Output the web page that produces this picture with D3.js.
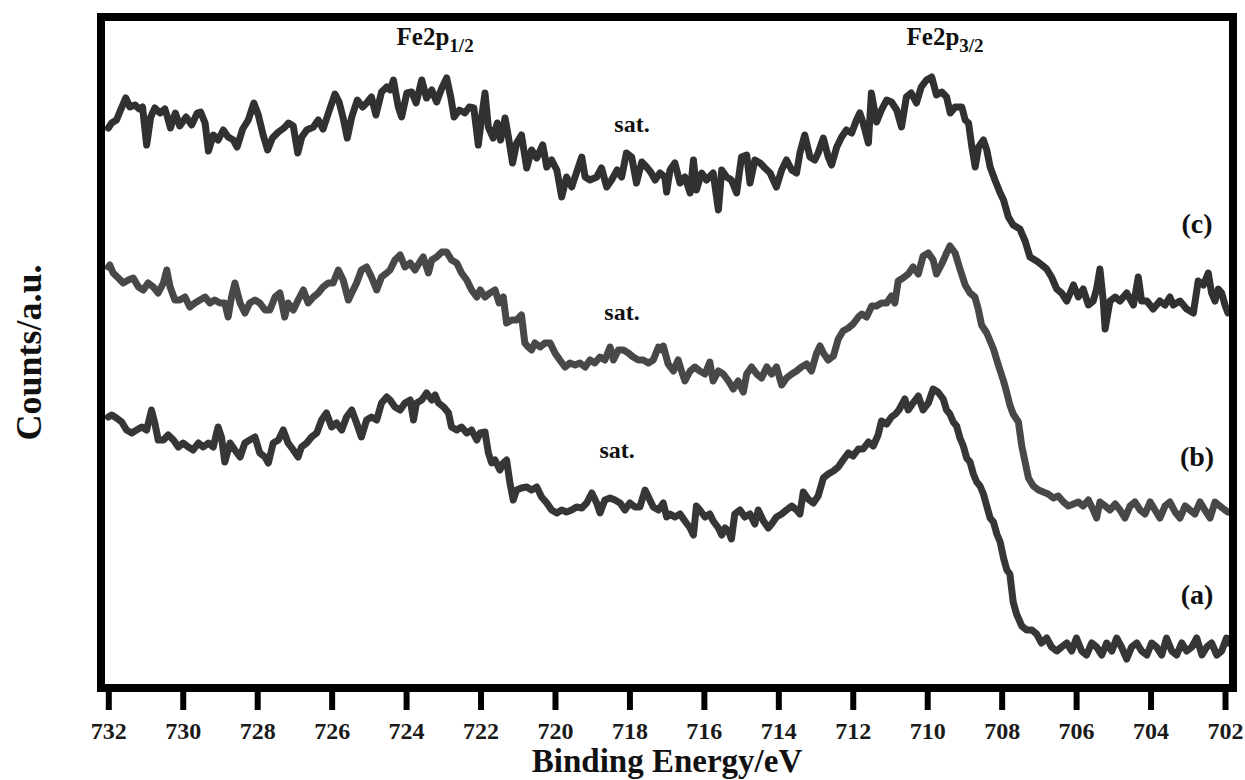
<!DOCTYPE html>
<html>
<head>
<meta charset="utf-8">
<script src="https://cdn.jsdelivr.net/npm/d3@7"></script>
<style>
  html, body { margin: 0; padding: 0; background: #ffffff; }
  svg { display: block; }
</style>
</head>
<body>
<svg id="chart" width="1245" height="780"></svg>
<script>
// Fe 2p XPS spectra of samples (a), (b), (c); binding energy in eV, intensity in arbitrary units.
const tickValues = [732, 730, 728, 726, 724, 722, 720, 718, 716, 714, 712, 710, 708, 706, 704, 702];

const beC = [732.00,731.91,731.78,731.67,731.53,731.42,731.28,731.17,731.08,730.97,730.86,730.75,730.61,730.48,730.41,730.33,730.20,730.08,729.91,729.76,729.61,729.52,729.40,729.31,729.18,729.05,728.91,728.78,728.64,728.54,728.39,728.24,728.09,727.97,727.84,727.72,727.59,727.43,727.28,727.16,727.03,726.91,726.80,726.67,726.49,726.36,726.23,726.06,725.91,725.80,725.69,725.58,725.46,725.31,725.17,725.06,724.93,724.81,724.66,724.52,
  724.43,724.34,724.21,724.12,723.98,723.85,723.73,723.58,723.45,723.31,723.18,723.04,722.91,722.80,722.71,722.57,722.42,722.30,722.18,722.06,721.97,721.88,721.79,721.66,721.55,721.46,721.34,721.25,721.14,721.03,720.90,720.76,720.63,720.49,720.33,720.22,720.09,719.95,719.82,719.69,719.55,719.40,719.28,719.19,719.06,718.88,718.75,718.61,718.48,718.33,718.21,718.08,717.94,717.81,717.67,717.54,717.43,717.31,717.18,717.05,
  717.00,716.91,716.78,716.64,716.51,716.37,716.28,716.20,716.06,715.93,715.75,715.61,715.52,715.39,715.26,715.12,714.99,714.85,714.76,714.63,714.49,714.36,714.22,714.05,713.91,713.78,713.64,713.51,713.42,713.29,713.15,713.02,712.93,712.79,712.66,712.57,712.43,712.30,712.17,712.03,711.90,711.81,711.72,711.58,711.50,711.36,711.23,711.09,710.96,710.82,710.69,710.56,710.43,710.29,710.16,710.02,709.88,709.75,709.61,709.48,
  709.38,709.25,709.07,708.98,708.89,708.80,708.71,708.62,708.49,708.40,708.31,708.18,708.04,707.95,
  707.82,707.69,707.51,707.37,707.24,707.06,706.92,706.79,706.66,706.52,706.39,706.25,706.07,705.94,705.81,705.67,705.54,705.45,705.36,705.27,705.22,705.09,704.95,704.82,704.64,704.46,704.33,704.24,704.10,703.93,703.75,703.61,703.48,703.39,703.21,703.03,702.85,702.72,702.58,702.45,702.36,702.27,702.18,702.09,702.00,701.92];
const cpsC = [560,565,568,578,590,581,583,579,581,543,571,580,575,579,571,560,575,562,571,563,575,576,565,537,553,548,558,551,548,541,559,568,585,573,553,538,550,556,560,565,562,535,551,558,561,568,559,578,594,586,570,550,571,588,581,585,591,573,596,601,
  598,608,581,571,595,596,585,608,590,598,586,600,610,591,571,578,575,581,580,543,571,595,561,550,565,548,570,551,525,545,553,520,538,530,543,521,528,518,491,511,501,518,531,511,508,511,520,501,508,518,511,535,531,505,526,521,516,508,515,511,
  496,518,525,505,511,495,528,498,515,508,515,478,518,511,508,495,531,533,505,528,525,520,515,501,518,528,518,515,535,553,531,528,535,550,531,523,541,551,558,555,568,575,565,545,595,566,578,588,586,578,561,591,595,585,601,608,611,593,596,591,
  575,581,581,568,565,541,521,541,548,538,521,508,495,488,
  471,463,459,447,431,427,423,419,411,399,395,387,403,391,399,383,387,399,419,387,359,387,391,387,395,383,411,387,387,379,387,383,391,383,387,379,375,407,403,415,395,387,399,395,383,375];

const beB = [732.00,731.96,731.87,731.73,731.60,731.46,731.33,731.19,731.06,730.93,730.79,730.66,730.52,730.43,730.34,730.21,730.08,729.94,729.81,729.67,729.54,729.40,729.27,729.14,729.00,728.87,728.78,728.69,728.60,728.46,728.33,728.20,728.06,727.93,727.79,727.66,727.52,727.39,727.26,727.17,727.03,726.90,726.76,726.63,726.49,726.36,726.23,726.09,725.96,725.82,725.69,725.55,725.46,725.33,725.20,725.06,724.93,724.79,724.66,724.52,
  724.43,724.30,724.16,724.03,723.89,723.76,723.63,723.54,723.40,723.31,723.18,723.04,722.91,722.78,722.64,722.51,722.37,722.24,722.10,722.01,721.88,721.75,721.61,721.50,721.39,721.30,721.16,721.03,720.90,720.81,720.72,720.63,720.54,720.40,720.27,720.13,720.00,719.87,719.73,719.60,719.46,719.33,719.19,719.06,718.93,718.79,718.66,718.52,718.43,718.30,718.16,718.03,717.90,717.76,717.63,717.49,717.36,717.22,717.13,
  717.09,716.96,716.82,716.69,716.60,716.51,716.37,716.24,716.11,715.97,715.84,715.75,715.61,715.48,715.34,715.21,715.08,714.94,714.85,714.72,714.58,714.45,714.31,714.18,714.05,713.91,713.78,713.64,713.51,713.38,713.24,713.11,712.97,712.88,712.79,712.66,712.52,712.39,712.26,712.12,711.99,711.85,711.76,711.63,711.49,711.36,711.23,711.09,710.96,710.87,710.78,710.65,710.51,710.38,710.24,710.11,709.97,709.84,709.75,709.61,709.48,709.39,
  709.25,709.12,708.98,708.85,708.72,708.63,708.54,708.40,708.31,708.22,708.09,707.95,707.86,707.78,707.69,707.55,707.46,707.37,707.28,707.15,707.01,706.88,706.75,706.61,706.48,706.34,706.21,706.07,705.94,705.81,705.67,705.54,705.45,705.36,705.22,705.09,704.95,704.82,704.69,704.55,704.42,704.28,704.15,704.01,703.88,703.75,703.61,703.48,703.34,703.21,703.07,702.94,702.81,702.67,702.54,702.40,702.27,702.14,702.00,701.92];
const cpsB = [421,423,415,410,405,408,410,401,398,405,401,395,405,418,401,388,388,391,381,385,388,391,385,388,385,385,371,391,405,385,375,385,388,385,378,378,391,395,371,385,378,388,398,385,391,395,401,405,405,418,408,388,395,405,418,421,411,398,411,415,
  418,428,433,421,425,418,426,431,415,428,431,436,436,428,425,415,408,398,391,398,391,395,398,385,391,365,368,368,373,345,341,338,345,341,345,345,335,328,321,325,323,325,321,328,325,331,328,341,328,338,338,335,331,328,328,325,328,341,338,
  342,324,317,328,317,307,317,321,317,314,326,307,317,314,307,299,307,296,314,321,314,310,321,314,321,303,310,314,317,321,324,317,335,342,335,328,332,349,357,360,364,371,374,371,382,382,385,385,392,385,407,410,414,421,414,432,435,428,414,424,435,442,
  435,419,403,395,391,379,363,355,347,339,323,307,295,283,274,266,242,226,210,202,198,196,194,190,192,186,182,184,186,182,188,178,170,186,182,178,184,178,170,182,186,178,174,186,178,170,182,186,176,170,182,178,174,186,178,170,186,182,178,176];

const beA = [732.00,731.91,731.78,731.64,731.51,731.37,731.24,731.10,730.97,730.84,730.75,730.66,730.52,730.39,730.25,730.12,729.99,729.85,729.72,729.58,729.45,729.31,729.18,729.05,728.96,728.87,728.73,728.60,728.46,728.33,728.20,728.06,727.93,727.79,727.70,727.57,727.43,727.30,727.17,727.03,726.90,726.81,726.67,726.54,726.40,726.27,726.14,726.00,725.87,725.73,725.60,725.46,725.33,725.20,725.06,724.93,724.79,724.66,724.52,
  724.43,724.30,724.16,724.03,723.89,723.80,723.72,723.58,723.45,723.31,723.22,723.13,722.99,722.86,722.78,722.64,722.51,722.37,722.24,722.10,722.01,721.88,721.79,721.70,721.61,721.48,721.39,721.30,721.21,721.12,721.03,720.90,720.76,720.63,720.49,720.36,720.22,720.09,719.95,719.82,719.69,719.55,719.42,719.28,719.15,719.01,718.88,718.79,718.66,718.52,718.39,718.25,718.12,717.99,717.85,717.72,717.58,717.49,717.36,717.22,717.09,
  717.00,716.91,716.78,716.64,716.51,716.37,716.28,716.20,716.11,715.97,715.84,715.75,715.61,715.52,715.43,715.34,715.26,715.17,715.03,714.90,714.76,714.63,714.54,714.40,714.27,714.18,714.05,713.91,713.78,713.64,713.51,713.42,713.33,713.20,713.06,712.93,712.79,712.66,712.52,712.39,712.26,712.12,711.99,711.85,711.72,711.58,711.45,711.32,711.23,711.09,710.96,710.85,710.76,710.60,710.51,710.38,710.24,710.11,709.97,709.84,709.71,709.57,709.48,
  709.39,709.30,709.21,709.12,709.03,708.94,708.85,708.76,708.67,708.58,708.49,708.40,708.31,708.22,708.13,708.04,707.95,707.86,707.78,707.69,707.60,707.46,707.33,707.19,707.06,706.93,706.79,706.66,706.52,706.39,706.25,706.12,705.99,705.85,705.72,705.58,705.45,705.31,705.18,705.04,704.91,704.78,704.64,704.51,704.37,704.24,704.10,703.97,703.84,703.70,703.57,703.43,703.30,703.16,703.03,702.89,702.76,702.62,702.49,702.36,702.22,702.09,701.96,701.90];
const cpsA = [271,273,270,266,258,255,258,261,258,278,265,248,248,253,248,241,245,241,238,245,241,245,241,261,251,226,245,238,231,245,248,251,235,231,225,245,248,258,245,238,231,241,245,251,255,268,275,261,265,258,271,278,265,251,268,271,268,285,291,
  288,281,278,285,288,268,285,288,295,288,293,285,281,275,261,258,261,255,258,248,255,256,235,225,228,218,225,228,205,188,198,200,201,198,201,191,185,178,175,178,176,178,181,180,185,195,185,175,188,190,188,185,178,185,181,181,198,191,181,178,185,
  171,174,171,174,167,160,153,182,178,171,174,167,160,153,160,157,149,174,178,171,174,164,178,167,160,164,171,174,178,182,178,174,196,189,185,192,210,214,217,221,228,235,232,239,239,246,242,253,267,264,271,274,278,289,278,285,292,278,285,299,296,289,278,
  274,266,262,250,242,230,226,214,206,202,194,182,170,166,154,146,130,118,114,86,74,62,58,58,54,45,50,41,37,41,45,37,50,37,33,45,41,33,45,37,50,41,29,41,45,37,33,45,41,33,50,37,33,45,37,41,50,33,41,45,33,37,50,45];

const seriesNames = ["(a)", "(b)", "(c)"];
const seriesColors = ["#363636", "#484848", "#313131"];
const seriesLabelValues = [84, 222, 455];
const peakLabels = [
  { main: "Fe2p", sub: "1/2", be: 723.22 },
  { main: "Fe2p", sub: "3/2", be: 709.52 }
];
// "sat." markers: binding energy and the intensity level of their baseline
const satBE = [718.33, 718.20, 717.93];
const satLevel = [230, 368, 556];

const svg = d3.select("#chart");
const W = 1245, H = 780;
const frame = { left: 101, right: 1233, top: 17, bottom: 688 };
const serif = "'Liberation Serif', 'Times New Roman', serif";

const x = d3.scaleLinear().domain([732, 702]).range([108.3, 1225]);
const y = d3.scaleLinear().domain([0, 671]).range([frame.bottom, frame.top]);

svg.append("rect").attr("width", W).attr("height", H).attr("fill", "#ffffff");

svg.append("defs").append("clipPath").attr("id", "plot-clip")
  .append("rect")
  .attr("x", frame.left + 4).attr("y", frame.top + 4)
  .attr("width", frame.right - frame.left - 8)
  .attr("height", frame.bottom - frame.top - 8);

const series = [
  { be: beA, cps: cpsA },
  { be: beB, cps: cpsB },
  { be: beC, cps: cpsC }
];

const line = d3.line()
  .x(d => x(d[0]))
  .y(d => y(d[1]));

const plot = svg.append("g").attr("clip-path", "url(#plot-clip)");
series.forEach((s, i) => {
  const pts = s.be.map((b, k) => [b, s.cps[k]]);
  plot.append("path")
    .datum(pts)
    .attr("d", line)
    .attr("fill", "none")
    .attr("stroke", seriesColors[i])
    .attr("stroke-width", 7)
    .attr("stroke-linejoin", "round")
    .attr("stroke-linecap", "round");
});

// frame
svg.append("rect")
  .attr("x", frame.left).attr("y", frame.top)
  .attr("width", frame.right - frame.left)
  .attr("height", frame.bottom - frame.top)
  .attr("fill", "none")
  .attr("stroke", "#000")
  .attr("stroke-width", 8);

// bottom axis
const xAxis = d3.axisBottom(x)
  .tickValues(tickValues)
  .tickFormat(d3.format("d"))
  .tickSize(22)
  .tickPadding(12);

const gx = svg.append("g")
  .attr("transform", `translate(0,${frame.bottom})`)
  .call(xAxis);
gx.select(".domain").remove();
gx.selectAll(".tick line").attr("stroke", "#000").attr("stroke-width", 6);
gx.selectAll(".tick text")
  .attr("fill", "#1a1a1a")
  .style("font-family", serif)
  .style("font-weight", "bold")
  .style("font-size", "24px");

// axis titles
svg.append("text")
  .attr("x", (frame.left + frame.right) / 2)
  .attr("y", 772)
  .attr("text-anchor", "middle")
  .style("font-family", serif).style("font-weight", "bold").style("font-size", "33px")
  .attr("fill", "#111")
  .text("Binding Energy/eV");

svg.append("text")
  .attr("transform", `translate(41,${(frame.top + frame.bottom) / 2}) rotate(-90)`)
  .attr("text-anchor", "middle")
  .style("font-family", serif).style("font-weight", "bold").style("font-size", "36px")
  .attr("fill", "#111")
  .text("Counts/a.u.");

// peak labels
peakLabels.forEach(p => {
  const t = svg.append("text")
    .attr("x", x(p.be))
    .attr("y", 45)
    .attr("text-anchor", "middle")
    .style("font-family", serif).style("font-weight", "bold").style("font-size", "25px")
    .attr("fill", "#111");
  t.append("tspan").text(p.main);
  t.append("tspan").attr("dy", 7).style("font-size", "19px").text(p.sub);
});

// satellite labels
satBE.forEach((b, i) => {
  svg.append("text")
    .attr("x", x(b))
    .attr("y", y(satLevel[i]))
    .attr("text-anchor", "middle")
    .style("font-family", serif).style("font-weight", "bold").style("font-size", "24px")
    .attr("fill", "#111")
    .text("sat.");
});

// series labels
seriesNames.forEach((n, i) => {
  svg.append("text")
    .attr("x", x(702.75))
    .attr("y", y(seriesLabelValues[i]))
    .attr("text-anchor", "middle")
    .style("font-family", serif).style("font-weight", "bold").style("font-size", "28px")
    .attr("fill", "#111")
    .text(n);
});
</script>
</body>
</html>
